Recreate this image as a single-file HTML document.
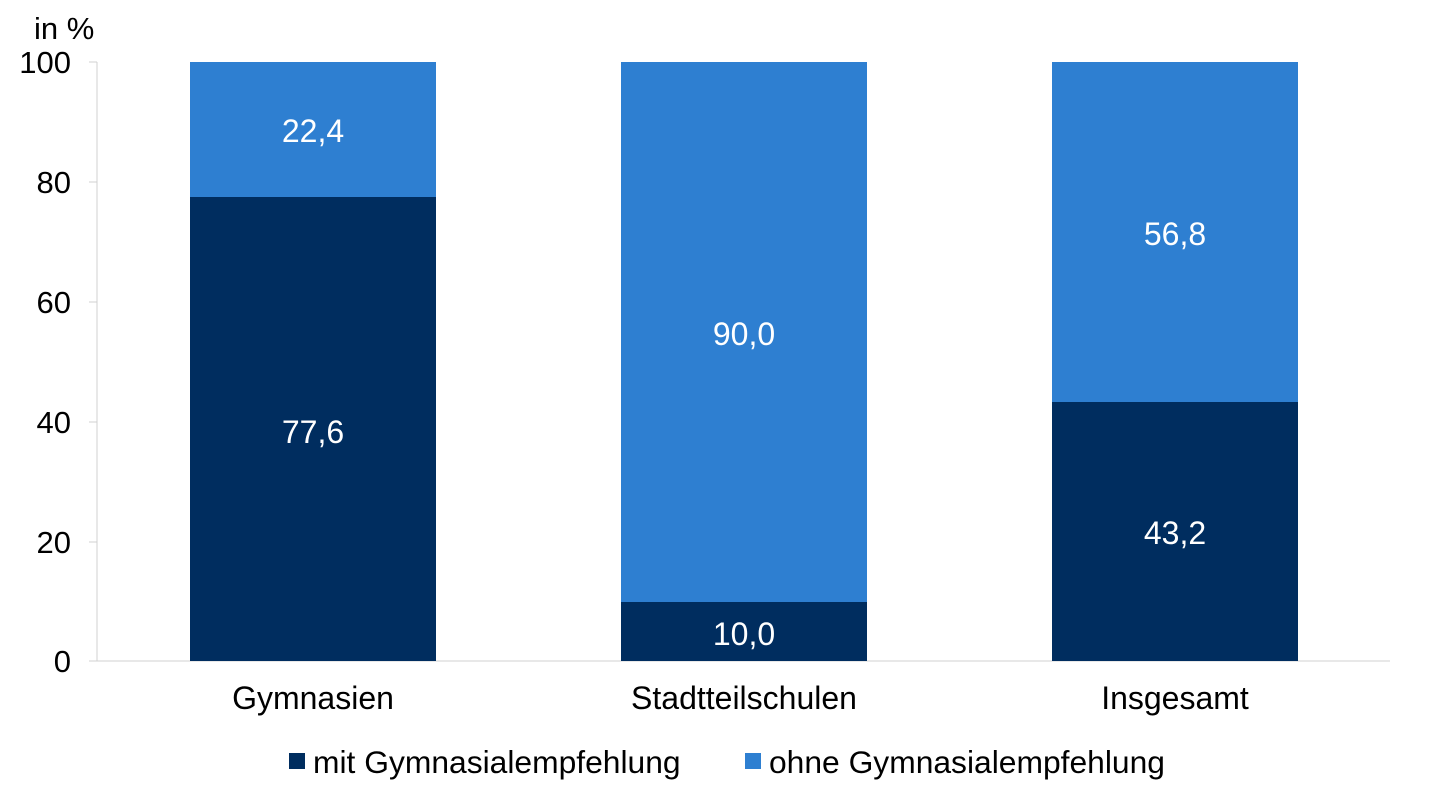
<!DOCTYPE html>
<html><head><meta charset="utf-8"><style>
body{margin:0;background:#fff;}
svg text{font-family:"Liberation Sans",Arial,sans-serif;}
</style></head><body>
<svg width="1443" height="790" xmlns="http://www.w3.org/2000/svg">
<rect width="1443" height="790" fill="#fff"/>
<text x="34" y="39" font-size="31" fill="#000">in %</text>
<g font-size="31" fill="#000" text-anchor="end">
<text x="71" y="73">100</text>
<text x="71" y="193">80</text>
<text x="71" y="313">60</text>
<text x="71" y="433">40</text>
<text x="71" y="553">20</text>
<text x="71" y="672">0</text>
</g>
<g stroke="#d0d0d0" stroke-width="1">
<line x1="97" y1="62" x2="97" y2="661"/>
<line x1="89" y1="62" x2="97" y2="62"/>
<line x1="89" y1="182" x2="97" y2="182"/>
<line x1="89" y1="302" x2="97" y2="302"/>
<line x1="89" y1="422" x2="97" y2="422"/>
<line x1="89" y1="542" x2="97" y2="542"/>
<line x1="89" y1="661" x2="1390" y2="661"/>
</g>
<rect x="190" y="62" width="246" height="135" fill="#2e7fd1"/>
<rect x="190" y="197" width="246" height="464" fill="#002d5f"/>
<rect x="621" y="62" width="246" height="540" fill="#2e7fd1"/>
<rect x="621" y="602" width="246" height="59" fill="#002d5f"/>
<rect x="1052" y="62" width="246" height="340" fill="#2e7fd1"/>
<rect x="1052" y="402" width="246" height="259" fill="#002d5f"/>
<g font-size="32" fill="#fff" text-anchor="middle">
<text x="313" y="142">22,4</text>
<text x="313" y="443">77,6</text>
<text x="744" y="345">90,0</text>
<text x="744" y="645">10,0</text>
<text x="1175" y="245">56,8</text>
<text x="1175" y="544">43,2</text>
</g>
<g font-size="32" fill="#000" text-anchor="middle">
<text x="313" y="709">Gymnasien</text>
<text x="744" y="709">Stadtteilschulen</text>
<text x="1175" y="709">Insgesamt</text>
</g>
<rect x="289" y="753" width="16" height="16" fill="#002d5f"/>
<text x="313" y="773" font-size="31.8" fill="#000">mit Gymnasialempfehlung</text>
<rect x="745" y="753" width="16" height="16" fill="#2e7fd1"/>
<text x="769" y="773" font-size="31.8" fill="#000">ohne Gymnasialempfehlung</text>
</svg>
</body></html>
